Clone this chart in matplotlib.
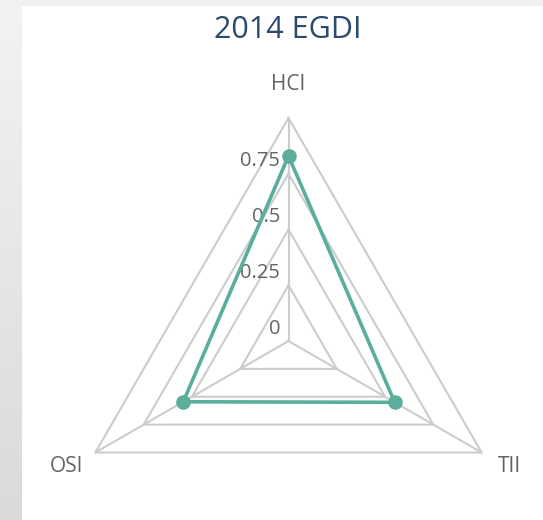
import numpy as np
import matplotlib
matplotlib.use("Agg")
import matplotlib.pyplot as plt
from matplotlib.patches import Rectangle

# data
axis_names = ["HCI", "TII", "OSI"]
values = [0.83, 0.55, 0.545]
ring_levels = [0.25, 0.5, 0.75, 1.0]
tick_values = [0, 0.25, 0.5, 0.75]
tick_labels = ["0", "0.25", "0.5", "0.75"]

plt.rcParams['font.family'] = ['Open Sans', 'DejaVu Sans']

W, H = 543, 520
fig = plt.figure(figsize=(W / 100, H / 100), dpi=100)
fig.patch.set_facecolor("white")

# page background: light strip on top, grey gradient on the left
bg = fig.add_axes([0, 0, 1, 1], zorder=-10)
bg.set_xlim(0, W)
bg.set_ylim(H, 0)
bg.axis("off")
grad = np.linspace(0, 1, 200).reshape(-1, 1)
bg.imshow(grad, cmap=matplotlib.colors.LinearSegmentedColormap.from_list(
    "pg", ["#f3f3f3", "#d9dadb"]), extent=[0, 22, H, 0], aspect="auto")
bg.add_patch(Rectangle((22, 0), W - 22, 6, color="#f1f1f1", lw=0))

# radar axes (center at 288.5, 341 px, radius 223 px)
cx, cy, R = 288.5, 341, 223
ax = fig.add_axes([(cx - R) / W, (H - cy - R) / H, 2 * R / W, 2 * R / H],
                  projection="polar")
ax.set_theta_offset(np.pi / 2)
ax.set_theta_direction(-1)
ax.set_ylim(0, 1)
ax.grid(False)
ax.spines["polar"].set_visible(False)
ax.patch.set_visible(False)
ax.set_xticks([])
ax.set_yticks([])

n = len(axis_names)
angles = np.linspace(0, 2 * np.pi, n, endpoint=False)
closed = np.append(angles, angles[0])

grid_col = "#cccccc"
for lvl in ring_levels:
    ax.plot(closed, [lvl] * (n + 1), color=grid_col, lw=1.5, zorder=1,
            clip_on=False)
for a in angles:
    ax.plot([a, a], [0, 1], color=grid_col, lw=1.5, zorder=1, clip_on=False)

teal = "#5aae9b"
ax.plot(closed, values + values[:1], color=teal, lw=2.6, zorder=3,
        clip_on=False)
ax.plot(angles, values, "o", color=teal, ms=9.5, zorder=4, clip_on=False)

# radial tick labels
for v, lab in zip(tick_values, tick_labels):
    ax.annotate(lab, xy=(0, v), xytext=(-6, 9), textcoords="offset points",
                ha="right", va="center", fontsize=14.5, color="#636363",
                zorder=2)

# axis names
name_offsets = [(0, 24), (20, -10), (-21, -10)]
for a, name, off in zip(angles, axis_names, name_offsets):
    ax.annotate(name, xy=(a, 1), xytext=off, textcoords="offset points",
                ha="center", va="center", fontsize=15, color="#636363",
                annotation_clip=False)

fig.text(288 / W, 1 - 30 / H, "2014 EGDI", ha="center", va="center",
         fontsize=22, color="#2b4a6c")

fig.savefig("out.png", dpi=100)
